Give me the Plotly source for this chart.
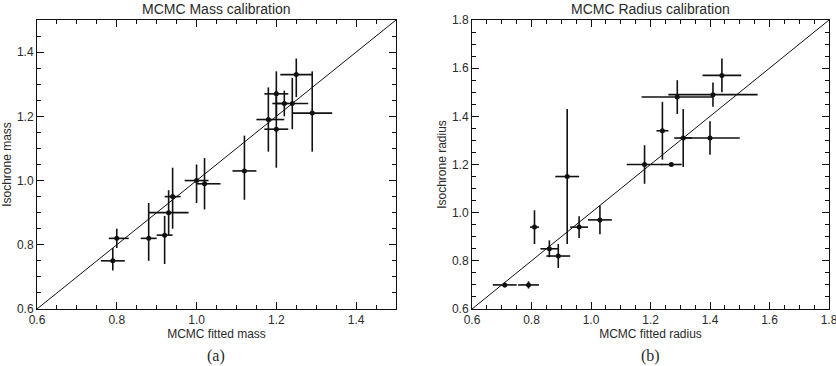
import plotly.graph_objects as go

# ---- Mass calibration data ----
mass_fit = [0.79, 0.80, 0.88, 0.92, 0.93, 0.94, 1.00, 1.02, 1.12, 1.18, 1.20, 1.20, 1.22, 1.24, 1.25, 1.29]
mass_iso = [0.75, 0.82, 0.82, 0.83, 0.90, 0.95, 1.00, 0.99, 1.03, 1.19, 1.27, 1.16, 1.24, 1.24, 1.33, 1.21]
mass_xerr_plus = [0.03, 0.03, 0.02, 0.02, 0.05, 0.02, 0.03, 0.04, 0.03, 0.04, 0.03, 0.03, 0.01, 0.04, 0.04, 0.05]
mass_xerr_minus = [0.03, 0.02, 0.02, 0.02, 0.05, 0.02, 0.03, 0.02, 0.03, 0.03, 0.03, 0.03, 0.03, 0.04, 0.04, 0.05]
mass_yerr_plus = [0.04, 0.03, 0.11, 0.06, 0.07, 0.09, 0.05, 0.08, 0.11, 0.10, 0.07, 0.12, 0.04, 0.08, 0.05, 0.13]
mass_yerr_minus = [0.03, 0.03, 0.07, 0.09, 0.07, 0.10, 0.07, 0.08, 0.09, 0.10, 0.07, 0.12, 0.04, 0.08, 0.07, 0.12]

# ---- Radius calibration data ----
rad_fit = [0.71, 0.79, 0.81, 0.86, 0.89, 0.92, 0.96, 1.03, 1.18, 1.27, 1.24, 1.29, 1.31, 1.40, 1.41, 1.44]
rad_iso = [0.70, 0.70, 0.94, 0.85, 0.82, 1.15, 0.94, 0.97, 1.20, 1.20, 1.34, 1.48, 1.31, 1.31, 1.49, 1.57]
rad_xerr = [0.04, 0.035, 0.015, 0.03, 0.04, 0.04, 0.03, 0.04, 0.06, 0.035, 0.02, 0.12, 0.03, 0.10, 0.15, 0.065]
rad_yerr = [0.01, 0.015, 0.07, 0.035, 0.05, 0.28, 0.045, 0.06, 0.08, 0.005, 0.12, 0.07, 0.12, 0.07, 0.05, 0.07]

mass_range = [0.6, 1.5]
rad_range = [0.6, 1.8]
major_ticks = [0.6, 0.8, 1.0, 1.2, 1.4, 1.6, 1.8]

ink = "#111111"
txt = "#2a2a2a"

fig = go.Figure()

err_style = dict(type="data", width=0, thickness=1.6, color=ink, symmetric=False)

fig.add_trace(go.Scatter(
    x=mass_fit, y=mass_iso, mode="markers",
    marker=dict(color=ink, size=5),
    error_x=dict(err_style, array=mass_xerr_plus, arrayminus=mass_xerr_minus),
    error_y=dict(err_style, array=mass_yerr_plus, arrayminus=mass_yerr_minus),
    xaxis="x", yaxis="y", showlegend=False))

fig.add_trace(go.Scatter(
    x=mass_range, y=mass_range, mode="lines",
    line=dict(color=ink, width=1), xaxis="x", yaxis="y", showlegend=False))

fig.add_trace(go.Scatter(
    x=rad_fit, y=rad_iso, mode="markers",
    marker=dict(color=ink, size=5),
    error_x=dict(type="data", width=0, thickness=1.6, color=ink, array=rad_xerr),
    error_y=dict(type="data", width=0, thickness=1.6, color=ink, array=rad_yerr),
    xaxis="x2", yaxis="y2", showlegend=False))

fig.add_trace(go.Scatter(
    x=rad_range, y=rad_range, mode="lines",
    line=dict(color=ink, width=1), xaxis="x2", yaxis="y2", showlegend=False))

def ax(rng, dom, anchor, title, standoff):
    return dict(
        range=rng, domain=dom, anchor=anchor, automargin=False,
        tickvals=major_ticks, ticktext=[f"{v:.1f}" for v in major_ticks],
        ticks="inside", ticklen=7, tickwidth=1, tickcolor=ink,
        minor=dict(ticks="inside", dtick=0.05, tick0=0.6, ticklen=4, tickwidth=1, tickcolor=ink),
        showline=True, linecolor=ink, linewidth=1, mirror="allticks",
        showgrid=False, zeroline=False,
        ticklabeloverflow="allow",
        tickfont=dict(family="Liberation Sans", size=12, color=txt),
        title=dict(text=title, font=dict(family="Liberation Sans", size=12, color=txt), standoff=standoff),
    )

ydom = [1 - 309 / 366, 1 - 20 / 366]
fig.update_layout(
    width=836, height=366,
    margin=dict(l=0, r=0, t=0, b=0),
    paper_bgcolor="white", plot_bgcolor="white",
    xaxis=ax(mass_range, [37 / 836, 396 / 836], "y", "MCMC fitted mass", 2),
    yaxis=ax(mass_range, ydom, "x", "Isochrone mass", 2),
    xaxis2=ax(rad_range, [472 / 836, 829 / 836], "y2", "MCMC fitted radius", 2),
    yaxis2=ax(rad_range, ydom, "x2", "Isochrone radius", 2),
    annotations=[
        dict(text="MCMC Mass calibration", x=(37 + 396) / 2 / 836, y=1, xref="paper", yref="paper",
             xanchor="center", yanchor="top", showarrow=False, borderpad=0,
             font=dict(family="Liberation Sans", size=14, color=txt)),
        dict(text="MCMC Radius calibration", x=(472 + 829) / 2 / 836, y=1, xref="paper", yref="paper",
             xanchor="center", yanchor="top", showarrow=False, borderpad=0,
             font=dict(family="Liberation Sans", size=14, color=txt)),
        dict(text="(a)", x=(37 + 396) / 2 / 836, y=0, xref="paper", yref="paper",
             xanchor="center", yanchor="bottom", showarrow=False, borderpad=0,
             font=dict(family="Liberation Serif", size=16, color=txt)),
        dict(text="(b)", x=(472 + 829) / 2 / 836, y=0, xref="paper", yref="paper",
             xanchor="center", yanchor="bottom", showarrow=False, borderpad=0,
             font=dict(family="Liberation Serif", size=16, color=txt)),
    ],
)

fig.write_html("out.html")
